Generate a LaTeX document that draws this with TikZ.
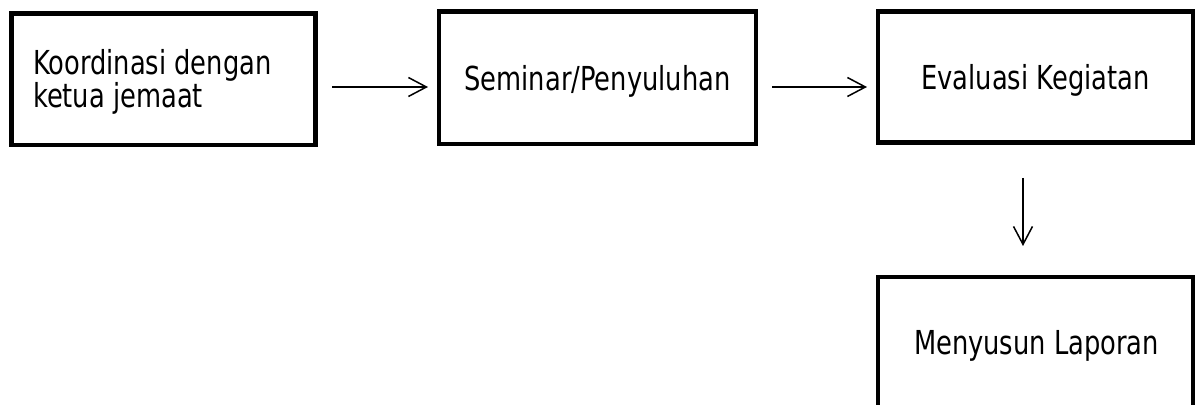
\documentclass[tikz,border=0pt]{standalone}
\usepackage{fontspec}
\setmainfont{DejaVu Sans}[FakeStretch=0.78]
\usetikzlibrary{arrows.meta}
\begin{document}
\begin{tikzpicture}[x=0.5pt,y=-0.5pt,
  stagebox/.style={draw=black, line width=2.25pt, rectangle, inner sep=0pt, outer sep=0pt},
  boxtext/.style={font=\fontsize{16.5pt}{16.5pt}\selectfont, inner sep=0pt, outer sep=0pt, text=black},
  flow/.style={draw=black, line width=0.75pt, -{Straight Barb[length=9pt,width=9.5pt,line width=0.75pt]}}]
\useasboundingbox (0,0) rectangle (1196,405);
\clip (0,0) rectangle (1196,405);

% process boxes
\node[stagebox, minimum width=151.8pt, minimum height=65.75pt] (koord) at (163.5,79.25) {};
\node[stagebox, minimum width=158.4pt, minimum height=66.15pt] (seminar) at (597.4,77.85) {};
\node[stagebox, minimum width=157.5pt, minimum height=65.4pt] (eval) at (1035.5,77.1) {};
\node[stagebox, minimum width=157.5pt, minimum height=66pt] (lapor) at (1035.5,343) {};

% box captions (the two-line caption is anchored at its last baseline)
\node[boxtext, anchor=base west, align=left] (koordtext) at (33,108) {Koordinasi dengan\\ketua jemaat};
\node[boxtext, anchor=base] (seminartext) at (597.5,90.5) {Seminar/Penyuluhan};
\node[boxtext, anchor=base] (evaltext) at (1035.5,90) {Evaluasi Kegiatan};
\node[boxtext, anchor=base] (laportext) at (1036.5,355) {Menyusun Laporan};

% connectors
\coordinate (rowA) at (0,87);
\coordinate (colC) at (1023,0);
\draw[flow, shorten <=8.35pt, shorten >=5.5pt] (koord.east |- rowA) -- (seminar.west |- rowA);
\draw[flow, shorten <=8.1pt, shorten >=5.5pt] (seminar.east |- rowA) -- (eval.west |- rowA);
\draw[flow, shorten <=17.75pt, shorten >=15.5pt] (colC |- eval.south) -- (colC |- lapor.north);
\end{tikzpicture}
\end{document}
